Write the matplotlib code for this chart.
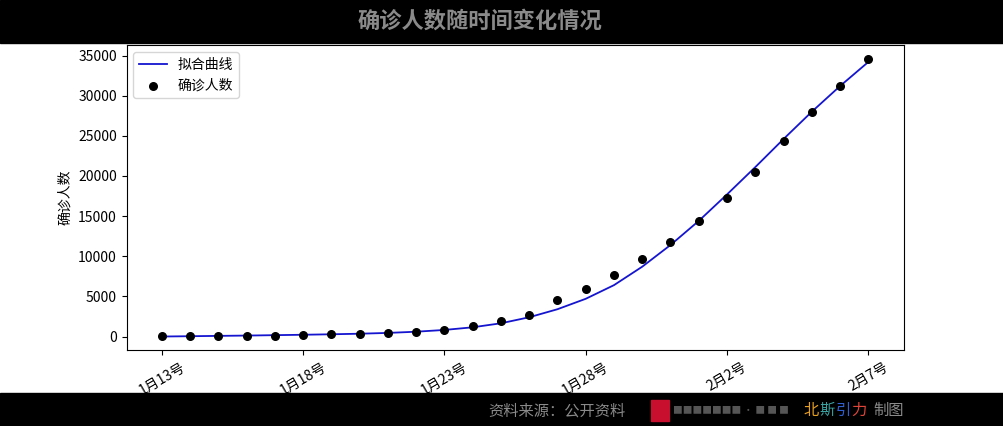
import matplotlib
matplotlib.use("Agg")
import matplotlib.pyplot as plt
from matplotlib.patches import Rectangle

plt.rcParams['font.family'] = ['Noto Sans CJK SC', 'DejaVu Sans']
plt.rcParams['axes.unicode_minus'] = False

days = list(range(26))
confirmed = [41, 41, 41, 45, 62, 198, 275, 291, 440, 571, 830, 1287, 1975, 2744, 4515,
             5974, 7711, 9692, 11791, 14380, 17205, 20438, 24324, 28018, 31161, 34546]
fitted = [0, 40, 80, 120, 170, 220, 280, 350, 450, 600, 820, 1150, 1650, 2400, 3400,
          4700, 6400, 8700, 11400, 14400, 17700, 21100, 24600, 28000, 31200, 34200]
tick_pos = [0, 5, 10, 15, 20, 25]
tick_labels = ['1月13号', '1月18号', '1月23号', '1月28号', '2月2号', '2月7号']

fig = plt.figure(figsize=(10.04, 4.26), dpi=100)
fig.patches.append(Rectangle((0, 0.9), 1, 0.1, transform=fig.transFigure, color='black', zorder=-1))
fig.patches.append(Rectangle((0, 0), 1, 0.077, transform=fig.transFigure, color='black', zorder=-1))
fig.text(0.478, 0.95, '确诊人数随时间变化情况', color='#8a8a8a', fontsize=16, ha='center', va='center', fontweight='bold')
fig.text(0.555, 0.036, '资料来源：公开资料', color='#8a8a8a', fontsize=11, ha='center', va='center')
fig.patches.append(Rectangle((0.648, 0.012), 0.018, 0.05, transform=fig.transFigure, color='#c8102e'))
fig.text(0.67, 0.036, '■■■■■■■ · ■ ■ ■', color='#555555', fontsize=7, ha='left', va='center')
fig.text(0.8, 0.036, '北', color='#e8a020', fontsize=11, ha='left', va='center')
fig.text(0.816, 0.036, '斯', color='#3aa0a0', fontsize=11, ha='left', va='center')
fig.text(0.832, 0.036, '引', color='#3060d0', fontsize=11, ha='left', va='center')
fig.text(0.848, 0.036, '力', color='#e0453a', fontsize=11, ha='left', va='center')
fig.text(0.87, 0.036, '制图', color='#8a8a8a', fontsize=11, ha='left', va='center')

ax = fig.add_axes([0.126, 0.178, 0.774, 0.716])
ax.plot(days, fitted, color='#1515d0', lw=1.3, label='拟合曲线')
ax.scatter(days, confirmed, color='black', s=30, zorder=3, label='确诊人数')
ax.set_xticks(tick_pos)
ax.set_xticklabels(tick_labels, rotation=30)
ax.set_yticks(range(0, 35001, 5000))
ax.set_ylabel('确诊人数', fontsize=10)
ax.set_xlim(-1.25, 26.25)
ax.set_ylim(-1700, 36300)
ax.tick_params(labelsize=10)
ax.legend(loc='upper left', fontsize=10)
fig.savefig('out.png', dpi=100)
